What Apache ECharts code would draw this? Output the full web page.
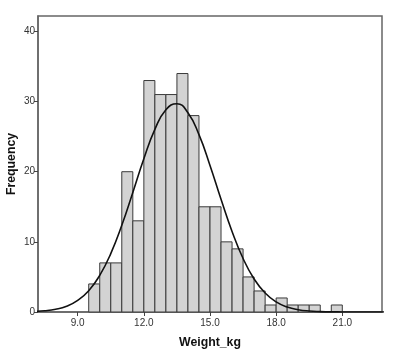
<!DOCTYPE html>
<html>
<head>
<meta charset="utf-8">
<script src="https://cdn.jsdelivr.net/npm/echarts@6/dist/echarts.min.js"></script>
<style>html,body{margin:0;padding:0;background:#fff}#c{width:400px;height:356px}</style>
</head>
<body>
<div id="c"></div>
<script>
// Histogram bins (lower edges, width 0.5) and frequencies
var binStarts = [9.5,10.0,10.5,11.0,11.5,12.0,12.5,13.0,13.5,14.0,14.5,15.0,15.5,16.0,16.5,17.0,17.5,18.0,18.5,19.0,19.5,20.0,20.5];
var binWidth = 0.5;
var frequencies = [4,7,7,20,13,33,31,31,34,28,15,15,10,9,5,3,1,2,1,1,1,0,1];
// Normal curve
var curveX = [7.0,7.5,8.0,8.5,9.0,9.5,10.0,10.5,11.0,11.5,12.0,12.5,13.0,13.5,14.0,14.5,15.0,15.5,16.0,16.5,17.0,17.5,18.0,18.5,19.0,19.5,20.0,20.5,21.0,21.5,22.0,22.5,23.0];
var curveY = [0.07,0.17,0.39,0.83,1.65,3.04,5.22,8.33,12.36,17.05,21.85,26.03,28.83,29.69,28.41,25.28,20.9,16.07,11.49,7.63,4.71,2.71,1.44,0.72,0.33,0.14,0.06,0.02,0.01,0,0,0,0];
var xTicks = [9,12,15,18,21];
var yTicks = [0,10,20,30,40];

var chart = echarts.init(document.getElementById('c'));
var barData = binStarts.map(function(s,i){return [s, s+binWidth, frequencies[i]];});
var curveData = curveX.map(function(x,i){return [x, curveY[i]];});
chart.setOption({
  animation:false,
  backgroundColor:'#fff',
  grid:{left:38,right:18,top:16,bottom:44,containLabel:false,outerBoundsMode:'none',show:true,borderColor:'#666',borderWidth:1.5,backgroundColor:'transparent'},
  xAxis:{
    type:'value',min:7.2,max:22.8,
    name:'Weight_kg',nameLocation:'middle',nameGap:25,nameMoveOverlap:false,
    nameTextStyle:{fontFamily:'Liberation Sans',fontWeight:'bold',fontSize:12.3,color:'#111'},
    axisLine:{show:true,onZero:false,lineStyle:{color:'#666',width:1.5}},
    axisTick:{show:true,length:4,customValues:xTicks,lineStyle:{color:'#444'}},
    axisLabel:{customValues:xTicks,fontFamily:'Liberation Sans',fontSize:10,color:'#333',margin:6,
      formatter:function(v){return v.toFixed(1);}},
    splitLine:{show:false}
  },
  yAxis:{
    type:'value',min:0,max:42.2,
    name:'Frequency',nameLocation:'middle',nameGap:20,nameRotate:90,nameMoveOverlap:false,
    nameTextStyle:{fontFamily:'Liberation Sans',fontWeight:'bold',fontSize:12.3,color:'#111'},
    axisLine:{show:true,lineStyle:{color:'#666',width:1.5}},
    axisTick:{show:true,length:4,customValues:yTicks,lineStyle:{color:'#444'}},
    axisLabel:{customValues:yTicks,fontFamily:'Liberation Sans',fontSize:10,color:'#333',margin:3},
    splitLine:{show:false}
  },
  series:[
    {
      type:'custom',
      data:barData,
      encode:{x:[0,1],y:2},
      renderItem:function(params,api){
        var p0 = api.coord([api.value(0),0]);
        var p1 = api.coord([api.value(1),api.value(2)]);
        return {type:'rect',shape:{x:p0[0],y:p1[1],width:p1[0]-p0[0],height:p0[1]-p1[1]},
          style:{fill:'#d3d3d3',stroke:'#3a3a3a',lineWidth:1}};
      },
      z:2
    },
    {
      type:'line',data:curveData,smooth:true,showSymbol:false,symbol:'none',
      lineStyle:{color:'#111',width:1.6},clip:true,z:3
    }
  ]
});
</script>
</body>
</html>
